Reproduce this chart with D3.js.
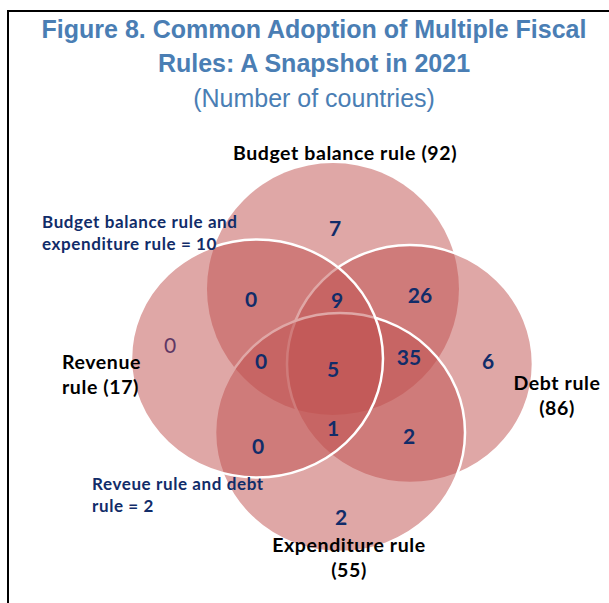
<!DOCTYPE html>
<html>
<head>
<meta charset="utf-8">
<script src="https://cdn.jsdelivr.net/npm/d3@7"></script>
<style>
  html, body { margin: 0; padding: 0; background: #fff; }
  svg { display: block; }
</style>
</head>
<body>
<svg id="chart" width="609" height="603"></svg>
<script>
// data
var setKeys = ["B", "R", "D", "E"];
var setNames = ["Budget balance rule", "Revenue rule", "Debt rule", "Expenditure rule"];
var setTotals = [92, 17, 86, 55];

// exclusive regions of the venn (keys = sets involved)
var regionKeys = ["B", "BR", "BRD", "BD", "R", "BRE", "BRDE", "BDE", "D", "RE", "RDE", "DE", "E", "BE", "RD"];
var regionValues = [7, 0, 9, 26, 0, 0, 5, 35, 6, 0, 1, 2, 2, 10, 2];

// regions too small to hold a number, written as notes
var noteRegions = ["BE", "RD"];
var noteLines = [
    ["Budget balance rule and", "expenditure rule = 10"],
    ["Reveue rule and debt", "rule = 2"]
];

var titleLines = ["Figure 8. Common Adoption of Multiple Fiscal", "Rules: A Snapshot in 2021"];
var subtitle = "(Number of countries)";

// layout (venn units, 1 = one radius)
var shapes = {
    B: {cx: -0.024, cy: -0.605, rx: 1.0, ry: 1.059},
    R: {cx: -0.627, cy: -0.021, rx: 1.0, ry: 1.0},
    D: {cx: 0.587, cy: 0.025, rx: 0.976, ry: 1.0},
    E: {cx: 0.032, cy: 0.601, rx: 0.992, ry: 1.004}
};
var drawOrder = ["B", "D", "E", "R"];
// hand placement tweaks of the region numbers, in px
var nudge = {
    B: [-5, 16], BR: [-3, 11], BRD: [-1, 6], BD: [4, 7], R: [-10, -23], BRE: [-3, -7],
    BRDE: [-1, 5], BDE: [1, -3], D: [0, 7], RE: [0, 8], RDE: [1, -4], DE: [-9, -2], E: [9, 9]
};

var svg = d3.select("#chart");
var W = +svg.attr("width"), H = +svg.attr("height");

var x = d3.scaleLinear().domain([-1, 1]).range([210, 462]);
var y = d3.scaleLinear().domain([-1, 1]).range([242, 480]);
var ux = x(1) - x(0), uy = y(1) - y(0);

var fill = "#c0504d";
var navy = "#112c69";
var labelFont = "Lato, 'Open Sans', sans-serif";

// frame
svg.append("line").attr("x1", 8).attr("y1", 11).attr("x2", 8).attr("y2", H)
    .attr("stroke", "#000").attr("stroke-width", 2);
svg.append("line").attr("x1", 7).attr("y1", 11).attr("x2", W).attr("y2", 11)
    .attr("stroke", "#000").attr("stroke-width", 2);

// title
var gTitle = svg.append("g").attr("font-family", "'Liberation Sans', Arial, sans-serif")
    .attr("fill", "#4a7eb4").attr("text-anchor", "middle");
gTitle.selectAll(".t").data(titleLines).enter().append("text")
    .attr("x", 314).attr("y", function(d, i) { return 38 + i * 34; })
    .attr("font-size", 25).attr("font-weight", "bold")
    .text(function(d) { return d; });
gTitle.append("text").attr("x", 314).attr("y", 107).attr("font-size", 25).text(subtitle);

// ellipses
var gV = svg.append("g");
gV.selectAll("ellipse").data(drawOrder).enter().append("ellipse")
    .attr("cx", function(k) { return x(shapes[k].cx); })
    .attr("cy", function(k) { return y(shapes[k].cy); })
    .attr("rx", function(k) { return shapes[k].rx * ux; })
    .attr("ry", function(k) { return shapes[k].ry * uy; })
    .attr("fill", fill).attr("fill-opacity", 0.5)
    .attr("stroke", function(k) { return k == "B" ? "none" : "#fff"; })
    .attr("stroke-width", 2.5);

// find a good spot for each region label (point farthest from every edge)
function inside(k, px, py) {
    var s = shapes[k];
    var dx = (px - x(s.cx)) / (s.rx * ux), dy = (py - y(s.cy)) / (s.ry * uy);
    return Math.sqrt(dx * dx + dy * dy);
}
function labelSpot(key) {
    var best = null, bestD = -1, n = 0;
    for (var px = 120; px < 550; px += 2) {
        for (var py = 150; py < 570; py += 2) {
            var ok = true, dmin = 1e9;
            setKeys.forEach(function(k) {
                var q = inside(k, px, py);
                var isIn = q < 1;
                if (isIn != (key.indexOf(k) >= 0)) ok = false;
                var s = shapes[k];
                dmin = Math.min(dmin, Math.abs(1 - q) * Math.min(s.rx * ux, s.ry * uy));
            });
            if (!ok) continue;
            n++;
            if (dmin > bestD) { bestD = dmin; best = [px, py]; }
        }
    }
    if (n <= 20) return null;
    var o = nudge[key] || [0, 0];
    return [best[0] + o[0], best[1] + o[1]];
}

var regions = regionKeys.map(function(k, i) {
    return {key: k, value: regionValues[i], pos: noteRegions.indexOf(k) < 0 ? labelSpot(k) : null};
}).filter(function(d) { return d.pos; });

svg.append("g").selectAll("text").data(regions).enter().append("text")
    .attr("x", function(d) { return d.pos[0]; })
    .attr("y", function(d) { return d.pos[1]; })
    .attr("dy", "0.36em")
    .attr("text-anchor", "middle")
    .attr("font-family", labelFont)
    .attr("font-weight", function(d) { return d.key == "R" ? "normal" : "bold"; })
    .attr("font-size", 21)
    .attr("fill", function(d) { return d.key == "R" ? "#5f3764" : navy; })
    .text(function(d) { return d.value; });

// set labels
var setLabelLayout = [
    {lines: [setNames[0] + " (" + setTotals[0] + ")"], x: 345, y: 160, anchor: "middle"},
    {lines: ["Revenue", "rule (" + setTotals[1] + ")"], x: 62, y: 369, anchor: "start"},
    {lines: ["Debt rule", "(" + setTotals[2] + ")"], x: 557, y: 390, anchor: "middle"},
    {lines: [setNames[3], "(" + setTotals[3] + ")"], x: 349, y: 552, anchor: "middle"}
];
var gL = svg.append("g").attr("font-family", labelFont)
    .attr("font-weight", "bold").attr("font-size", 19.5).attr("letter-spacing", 0.6)
    .attr("fill", "#000");
setLabelLayout.forEach(function(l) {
    gL.selectAll(null).data(l.lines).enter().append("text")
        .attr("x", l.x).attr("y", function(d, i) { return l.y + i * 25; })
        .attr("text-anchor", l.anchor)
        .text(function(d) { return d; });
});

// notes
var notePos = [[42, 228], [92, 490]];
var gN = svg.append("g").attr("font-family", labelFont)
    .attr("font-weight", "bold").attr("font-size", 17).attr("letter-spacing", 0.6)
    .attr("fill", navy);
noteLines.forEach(function(lines, j) {
    gN.selectAll(null).data(lines).enter().append("text")
        .attr("x", notePos[j][0]).attr("y", function(d, i) { return notePos[j][1] + i * 22; })
        .text(function(d) { return d; });
});
</script>
</body>
</html>
